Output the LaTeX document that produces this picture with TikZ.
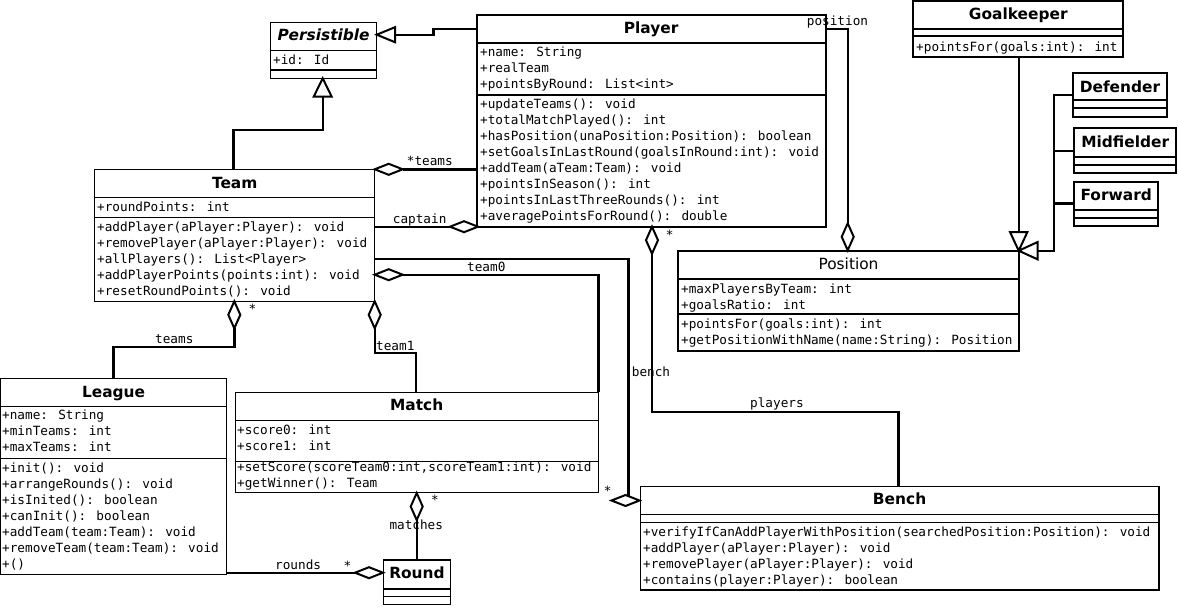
\documentclass[tikz,border=0pt]{standalone}
\usepackage{fontspec}
\setmainfont{DejaVu Sans}
\newfontfamily\monof{DejaVu Sans Mono}
\newfontfamily\sansf{DejaVu Sans}
\usetikzlibrary{fit}
\tikzset{
  thinbox/.style={draw, line width=1pt, inner sep=0pt, outer sep=0pt},
  midbox/.style={draw, line width=1.3pt, inner sep=0pt, outer sep=0pt},
  thickbox/.style={draw, line width=2pt, inner sep=0pt, outer sep=0pt},
  member/.style={anchor=base west, inner sep=0pt, font=\monof\fontsize{12.7}{15}\selectfont},
  lbl/.style={anchor=base west, inner sep=0pt, font=\monof\fontsize{12.7}{15}\selectfont},
  ctitle/.style={anchor=base, inner sep=0pt, font=\sansf\bfseries\fontsize{15.4}{18}\selectfont},
  ptitle/.style={anchor=base, inner sep=0pt, font=\sansf\fontsize{15.4}{18}\selectfont},
  itit/.style={anchor=base, inner sep=0pt, font=\sansf\bfseries\itshape\fontsize{15.4}{18}\selectfont},
  conn/.style={line width=2.4pt},
  tipshape/.style={draw, fill=white, line width=2pt, line join=miter},
}
\newcommand\cls[6]{\node[fit={(#2,#3) (#4,#5)}, #6] (#1) {};}
\newcommand\csep[4]{\draw[#1] (#2,#4) -- (#3,#4);}
\newcommand\rowsat[4]{\foreach \t [count=\i] in {#4} {\node[member] (#1\i) at (#2,{#3+4.5+16*(\i-1)}) {\t};}}
\newcommand\hdiam[2]{\draw[tipshape] (#1,#2) -- (#1+14,#2-5.5) -- (#1+28,#2) -- (#1+14,#2+5.5) -- cycle;}
\newcommand\vdiam[2]{\draw[tipshape] (#1,#2) -- (#1+6,#2+13.5) -- (#1,#2+27) -- (#1-6,#2+13.5) -- cycle;}
\begin{document}
\begin{tikzpicture}[x=1pt,y=-1pt]
\useasboundingbox[fill=white] (0,0) rectangle (1178,608);

% ---------- classes ----------
% Persistible
\cls{pers}{270.7}{22.7}{376.7}{78.3}{midbox}
\csep{line width=1.3pt}{270.7}{376.7}{50.7}
\csep{line width=1.3pt}{270.7}{376.7}{70}
\node[itit] (persT) at (323.7,40.6) {Persistible};
\rowsat{persA}{273}{60}{{+id: Id}}

% Player
\cls{player}{476.7}{15}{825.7}{226.7}{thickbox}
\csep{line width=2pt}{476.7}{825.7}{42.7}
\csep{line width=2pt}{476.7}{825.7}{95}
\node[ctitle] (playerT) at (651.2,33.9) {Player};
\rowsat{playerA}{480}{52.3}{{+name: String},{+realTeam},{+pointsByRound: List<int>}}
\rowsat{playerO}{480}{104.3}{{+updateTeams(): void},{+totalMatchPlayed(): int},{+hasPosition(unaPosition:Position): boolean},{+setGoalsInLastRound(goalsInRound:int): void},{+addTeam(aTeam:Team): void},{+pointsInSeason(): int},{+pointsInLastThreeRounds(): int},{+averagePointsForRound(): double}}

% Goalkeeper
\cls{goal}{913.3}{1}{1123.3}{56.7}{thickbox}
\csep{line width=2pt}{913.3}{1123.3}{29}
\csep{line width=2pt}{913.3}{1123.3}{36}
\node[ctitle] (goalT) at (1018.3,19.9) {Goalkeeper};
\rowsat{goalO}{916}{46.7}{{+pointsFor(goals:int): int}}

% Defender
\cls{def}{1073.3}{72.7}{1166.7}{116.7}{thickbox}
\csep{line width=2pt}{1073.3}{1166.7}{100}
\csep{line width=2pt}{1073.3}{1166.7}{108.3}
\node[ctitle] (defT) at (1120,92.3) {Defender};

% Midfielder
\cls{mid}{1074.3}{128.3}{1176}{172.7}{thickbox}
\csep{line width=2pt}{1074.3}{1176}{156.7}
\csep{line width=2pt}{1074.3}{1176}{165}
\node[ctitle] (midT) at (1125.2,147.9) {Midfielder};

% Forward
\cls{fwd}{1074}{181.7}{1158.3}{226}{thickbox}
\csep{line width=2pt}{1074}{1158.3}{210}
\csep{line width=2pt}{1074}{1158.3}{218.3}
\node[ctitle] (fwdT) at (1116.2,200.6) {Forward};

% Position
\cls{pos}{678.3}{250.7}{1018.7}{350.7}{thickbox}
\csep{line width=2pt}{678.3}{1018.7}{279}
\csep{line width=2pt}{678.3}{1018.7}{314.3}
\node[ptitle] (posT) at (848.5,269.6) {Position};
\rowsat{posA}{681}{289}{{+maxPlayersByTeam: int},{+goalsRatio: int}}
\rowsat{posO}{681}{324.3}{{+pointsFor(goals:int): int},{+getPositionWithName(name:String): Position}}

% Team
\cls{team}{94.7}{169.3}{374.7}{301.3}{thinbox}
\csep{line width=1pt}{94.7}{374.7}{197.3}
\csep{line width=1pt}{94.7}{374.7}{217.3}
\node[ctitle] (teamT) at (234.7,188.3) {Team};
\rowsat{teamA}{97}{206.7}{{+roundPoints: int}}
\rowsat{teamO}{97}{226.7}{{+addPlayer(aPlayer:Player): void},{+removePlayer(aPlayer:Player): void},{+allPlayers(): List<Player>},{+addPlayerPoints(points:int): void},{+resetRoundPoints(): void}}

% League
\cls{league}{0.5}{378.3}{226.7}{574}{thinbox}
\csep{line width=1pt}{0.5}{226.7}{406}
\csep{line width=1pt}{0.5}{226.7}{458.3}
\node[ctitle] (leagueT) at (113.6,397.3) {League};
\rowsat{leagueA}{2}{415}{{+name: String},{+minTeams: int},{+maxTeams: int}}
\rowsat{leagueO}{2}{468.3}{{+init(): void},{+arrangeRounds(): void},{+isInited(): boolean},{+canInit(): boolean},{+addTeam(team:Team): void},{+removeTeam(team:Team): void},{+()}}

% Match
\cls{match}{235}{392.3}{598.3}{492.7}{thinbox}
\csep{line width=1pt}{235}{598.3}{420.7}
\csep{line width=1pt}{235}{598.3}{461.7}
\node[ctitle] (matchT) at (416.7,410.6) {Match};
\rowsat{matchA}{237}{430}{{+score0: int},{+score1: int}}
\rowsat{matchO}{237}{467.3}{{+setScore(scoreTeam0:int,scoreTeam1:int): void},{+getWinner(): Team}}

% Round
\cls{round}{383.3}{560}{450.7}{604.3}{midbox}
\csep{line width=1.3pt}{383.3}{450.7}{589}
\csep{line width=1.3pt}{383.3}{450.7}{596.7}
\node[ctitle] (roundT) at (417,578.9) {Round};

% Bench
\cls{bench}{640.3}{486.7}{1159}{590}{midbox}
\csep{line width=1.3pt}{640.3}{1159}{514.3}
\csep{line width=1.3pt}{640.3}{1159}{522.7}
\node[ctitle] (benchT) at (899.6,504.9) {Bench};
\rowsat{benchO}{643}{531.7}{{+verifyIfCanAddPlayerWithPosition(searchedPosition:Position): void},{+addPlayer(aPlayer:Player): void},{+removePlayer(aPlayer:Player): void},{+contains(player:Player): boolean}}

% ---------- connector end points ----------
\coordinate (plGen) at (476.7,28.7);
\coordinate (persR) at (395,34.7);
\coordinate (teamTop) at (233.3,169.3);
\coordinate (persB) at (322.7,96.7);
\coordinate (goalB) at (1018.7,56.7);
\coordinate (posTRa) at (1018.7,232);
\coordinate (posTRb) at (1037.7,250.7);
\coordinate (defL) at (1073.3,95);
\coordinate (midL) at (1074.3,151);
\coordinate (fwdL) at (1074,203.3);
\coordinate (plTeams) at (476.7,169.3);
\coordinate (teamTeams) at (403.3,169.3);
\coordinate (teamCapt) at (374.7,226.7);
\coordinate (plCapt) at (450,226.7);
\coordinate (teamT0) at (403.3,274.7);
\coordinate (matchT0) at (598.3,392.3);
\coordinate (teamBench) at (374.7,258.7);
\coordinate (benchTeam) at (628.5,495.5);
\coordinate (plPlayers) at (652,253.3);
\coordinate (benchPlayers) at (898.5,486.7);
\coordinate (plPos) at (825.7,28.7);
\coordinate (posPl) at (847.7,223.3);
\coordinate (teamLg) at (234.3,328.3);
\coordinate (lgTeam) at (113.3,378.3);
\coordinate (teamT1) at (374.7,328.3);
\coordinate (matchT1) at (415.7,392.3);
\coordinate (matchRd) at (416.7,520);
\coordinate (rdMatch) at (416.7,560);
\coordinate (lgRd) at (226.7,572.7);
\coordinate (rdLg) at (355,572.7);

% ---------- connectors ----------
\draw[conn] (plGen) -- (433.3,28.7) -- (433.3,34.7) -- (persR);
\draw[conn] (teamTop) -- (233.3,130) -- (322.7,130) -- (persB);
\draw[conn] (goalB) -- (posTRa);
\draw[conn] (defL) -- (1054,95) -- (1054,250.7) -- (posTRb);
\draw[conn] (midL) -- (1054,151);
\draw[conn] (fwdL) -- (1054,203.3);
\draw[conn] (plTeams) -- (teamTeams);
\draw[conn] (teamCapt) -- (plCapt);
\draw[conn] (teamT0) -- (598.3,274.7) -- (matchT0);
\draw[conn] (teamBench) -- (628.5,258.7) -- (benchTeam);
\draw[conn] (plPlayers) -- (652,411.7) -- (898.5,411.7) -- (benchPlayers);
\draw[conn] (plPos) -- (847.7,28.7) -- (posPl);
\draw[conn] (teamLg) -- (234.3,346.7) -- (113.3,346.7) -- (lgTeam);
\draw[conn] (teamT1) -- (374.7,352.7) -- (415.7,352.7) -- (matchT1);
\draw[conn] (matchRd) -- (rdMatch);
\draw[conn] (lgRd) -- (rdLg);

% ---------- arrow heads ----------
\draw[tipshape] (395,27.2) -- (376.7,34.7) -- (395,42.2) -- cycle;
\draw[tipshape] (313.7,96.7) -- (322.7,78.3) -- (331.7,96.7) -- cycle;
\draw[tipshape] (1010,232) -- (1018.7,250.7) -- (1027.4,232) -- cycle;
\draw[tipshape] (1037.7,242) -- (1018.7,250.7) -- (1037.7,259.4) -- cycle;
\hdiam{374.7}{169.3}
\hdiam{450}{226.7}
\hdiam{374.7}{274.7}
\hdiam{611.5}{500.5}
\hdiam{355}{572.7}
\vdiam{652}{226.7}
\vdiam{847.7}{223.3}
\vdiam{234.3}{301.3}
\vdiam{374.7}{301.3}
\vdiam{416.7}{493}

% ---------- labels ----------
\node[lbl] (l1) at (406.7,165) {*teams};
\node[lbl] (l2) at (392.7,223) {captain};
\node[lbl] (l3) at (467,271) {team0};
\node[lbl] (l4) at (631.7,376) {bench};
\node[lbl] (l5) at (603.7,495) {*};
\node[lbl] (l6) at (750,407.5) {players};
\node[lbl] (l7) at (665.7,239) {*};
\node[lbl] (l8) at (806.7,25) {position};
\node[lbl] (l9) at (155,343.5) {teams};
\node[lbl] (l10) at (248.3,313.5) {*};
\node[lbl] (l11) at (376,350) {team1};
\node[lbl] (l12) at (389.3,529.5) {matches};
\node[lbl] (l13) at (431,504.5) {*};
\node[lbl] (l14) at (275,569.5) {rounds};
\node[lbl] (l15) at (343.5,570) {*};
\end{tikzpicture}
\end{document}
